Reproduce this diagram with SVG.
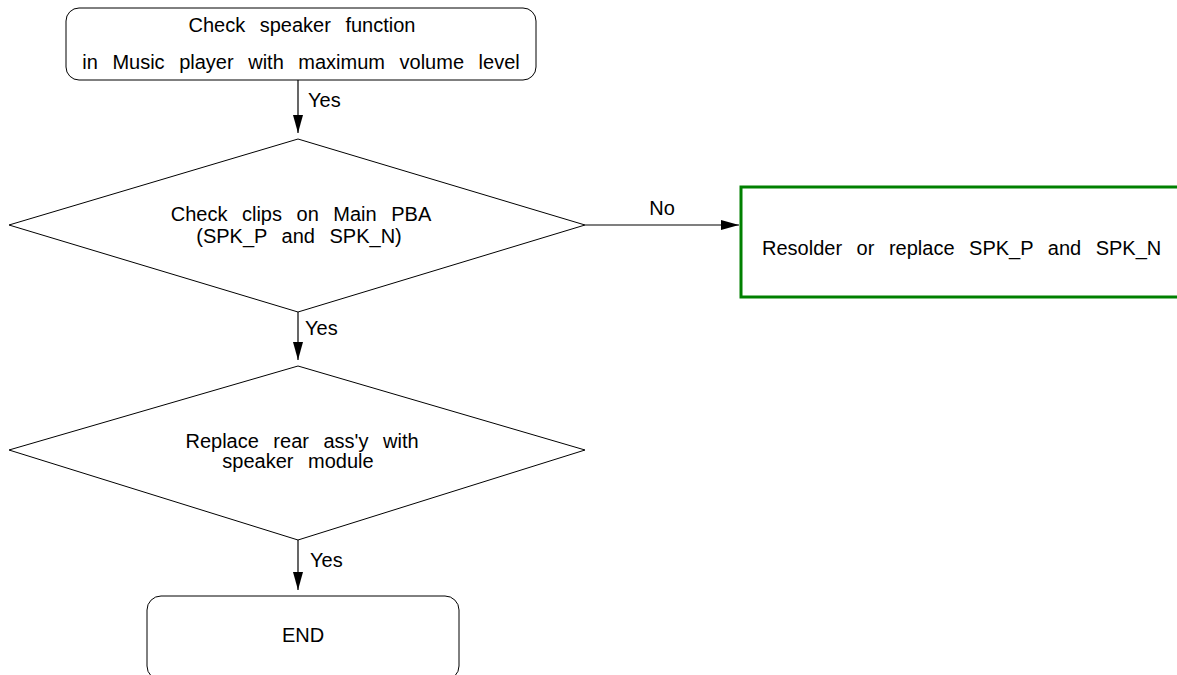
<svg xmlns="http://www.w3.org/2000/svg" width="1177" height="675" viewBox="0 0 1177 675">
<defs>
<style>
.t{font-family:"Liberation Sans",Arial,sans-serif;font-size:20px;fill:#000;word-spacing:9px}
.c{text-anchor:middle}
.s{fill:#fff;stroke:#000;stroke-width:1}
.e{stroke:#000;stroke-width:1.2;fill:none}
</style>
<marker id="ah" markerUnits="userSpaceOnUse" markerWidth="18" markerHeight="12" viewBox="0 0 18 12" refX="18" refY="6" orient="auto">
<path d="M0,1 L18,6 L0,11 Z" fill="#000"/>
</marker>
<marker id="av" markerUnits="userSpaceOnUse" markerWidth="18" markerHeight="12" viewBox="0 0 18 12" refX="18" refY="6" orient="auto">
<path d="M0,1 L18,6 L0,11 Z" fill="#000"/>
</marker>
</defs>
<rect width="1177" height="675" fill="#fff"/>
<g id="start">
<rect class="s" x="66" y="8" width="470" height="72" rx="13"/>
<text class="t c" x="302" y="32">Check speaker function</text>
<text class="t c" x="301" y="69">in Music player with maximum volume level</text>
</g>
<g id="check-clips">
<polygon class="s" points="9,225 298,139 585,225 298,312"/>
<text class="t c" x="301" y="221">Check clips on Main PBA</text>
<text class="t c" x="299" y="243">(SPK_P and SPK_N)</text>
</g>
<g id="resolder">
<rect x="741" y="187" width="470" height="110" fill="#fff" stroke="#008000" stroke-width="3"/>
<text class="t" x="762" y="255">Resolder or replace SPK_P and SPK_N</text>
</g>
<g id="replace-rear">
<polygon class="s" points="9,450 298,366 585,450 298,540"/>
<text class="t c" x="302" y="448">Replace rear ass'y with</text>
<text class="t c" x="298" y="468">speaker module</text>
</g>
<g id="end">
<rect class="s" x="147" y="596" width="312" height="84" rx="14"/>
<text class="t c" x="303" y="642">END</text>
</g>
<g id="connectors">
<line class="e" x1="298" y1="80" x2="298" y2="133" marker-end="url(#av)"/>
<text class="t" x="308" y="107">Yes</text>
<line class="e" x1="585" y1="225" x2="739" y2="225" marker-end="url(#ah)"/>
<text class="t c" x="662" y="215">No</text>
<line class="e" x1="298" y1="312" x2="298" y2="360" marker-end="url(#av)"/>
<text class="t" x="305" y="335">Yes</text>
<line class="e" x1="298" y1="540" x2="298" y2="590" marker-end="url(#av)"/>
<text class="t" x="310" y="567">Yes</text>
</g>
</svg>
